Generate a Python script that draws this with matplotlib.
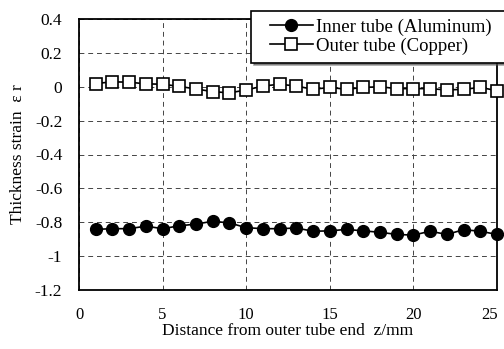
import matplotlib
matplotlib.use("Agg")
import matplotlib.pyplot as plt
import matplotlib.transforms as mtransforms
from matplotlib.lines import Line2D
from matplotlib.legend_handler import HandlerLine2D

plt.rcParams['font.family'] = ['Liberation Serif', 'DejaVu Serif']

z = list(range(1, 26))
inner = [-0.842, -0.838, -0.838, -0.823, -0.838, -0.821, -0.811, -0.794, -0.804, -0.832,
         -0.838, -0.838, -0.834, -0.853, -0.851, -0.842, -0.851, -0.859, -0.872, -0.876,
         -0.853, -0.872, -0.844, -0.853, -0.872]
outer = [0.019, 0.029, 0.027, 0.017, 0.015, 0.002, -0.013, -0.029, -0.036, -0.019,
         0.004, 0.015, 0.004, -0.015, -0.004, -0.015, -0.004, 0.0, -0.011, -0.011,
         -0.011, -0.019, -0.015, -0.004, -0.023]
xticks = [0, 5, 10, 15, 20, 25]
yticks = [0.4, 0.2, 0, -0.2, -0.4, -0.6, -0.8, -1, -1.2]
ytick_labels = ['0.4', '0.2', '0', '-0.2', '-0.4', '-0.6', '-0.8', '-1', '-1.2']

fig = plt.figure(figsize=(5.04, 3.49), dpi=100)
ax = fig.add_axes([79/504, 1-290/349, (497-79)/504, (290-19)/349])

ax.plot(z, inner, '-', color='black', lw=1.2, marker='o', ms=8.5,
        mfc='black', mec='black', label='Inner tube (Aluminum)', zorder=3,
        clip_on=False)
ax.plot(z, outer, '-', color='black', lw=1.2, marker='s', ms=8,
        mfc='white', mec='black', mew=1.2, label='Outer tube (Copper)', zorder=3,
        clip_on=False)

ax.set_xlim(0, 25)
ax.set_ylim(-1.2, 0.4)
ax.set_xticks(xticks)
ax.set_yticks(yticks)
ax.set_yticklabels(ytick_labels)
ax.tick_params(length=0, labelsize=12.5, pad=12)
ax.tick_params(axis='x', labelsize=12, pad=12.5)
ax.grid(True, color='#444444', ls=(0, (5, 4)), lw=0.7)
for s in ax.spines.values():
    s.set_linewidth(1.3)

fig.canvas.draw()
last = ax.get_xticklabels()[-1]
last.set_transform(last.get_transform() + mtransforms.ScaledTranslation(-7/100, 0, fig.dpi_scale_trans))

ax.set_xlabel('Distance from outer tube end  z/mm', fontsize=12.5, labelpad=0)
ax.set_ylabel('Thickness strain  \u03b5 r', fontsize=12.5, labelpad=6)

leg = fig.legend(loc='upper left', bbox_to_anchor=(251/504, 1-11/349, 0.6, 0),
                 mode='expand', fontsize=13.5,
                 frameon=True, fancybox=False, shadow=True, borderpad=0.4,
                 labelspacing=0.1, handlelength=2.9, handletextpad=0.17,
                 borderaxespad=0,
                 handler_map={Line2D: HandlerLine2D(xpad=0.6)})
leg.get_frame().set_edgecolor('black')
leg.get_frame().set_linewidth(1.2)

fig.savefig('out.png', dpi=100)
